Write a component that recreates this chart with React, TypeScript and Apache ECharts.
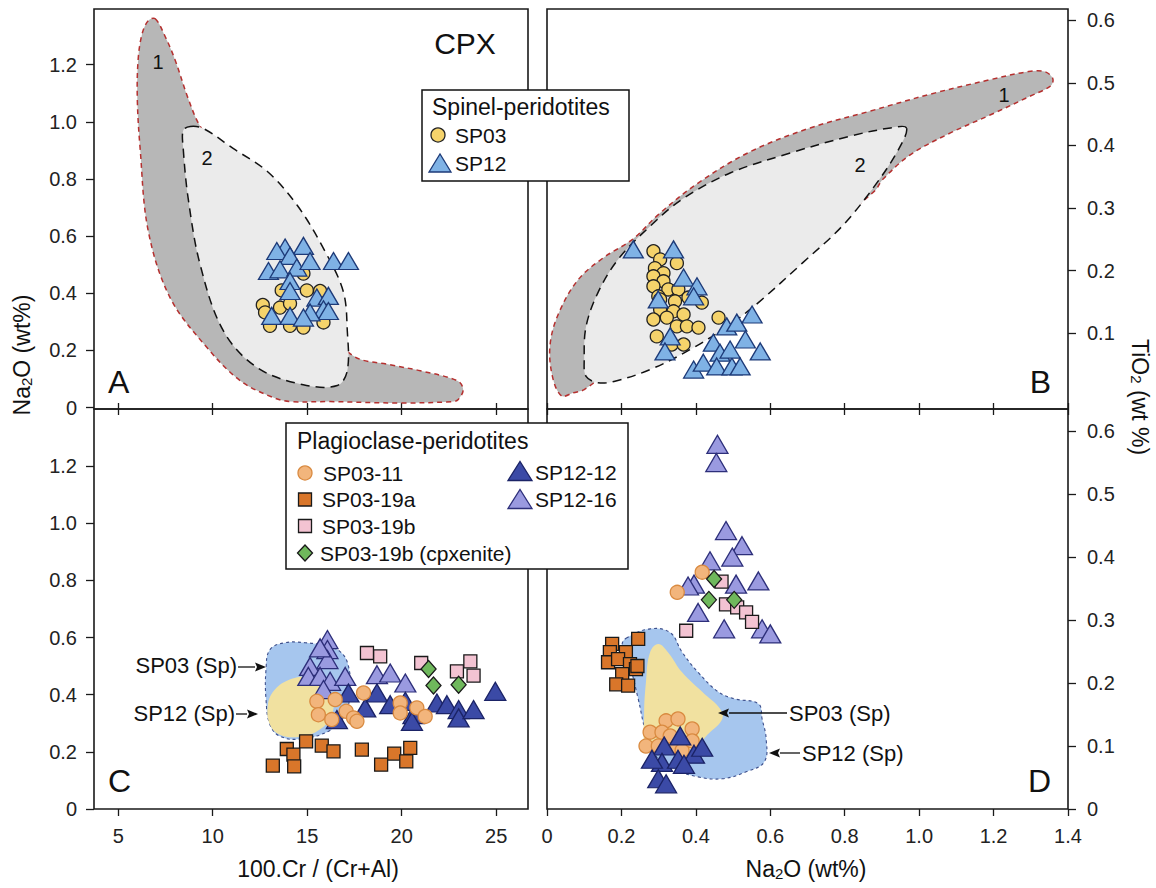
import React, { useEffect, useRef } from "react";
import * as echarts from "echarts";

type P = [number, number];

const FONT = '"Liberation Sans", Arial, Helvetica, sans-serif';

// ---------- tick values ----------
const CR_TICKS = [5, 10, 15, 20, 25];
const NA_Y_TICKS = [0, 0.2, 0.4, 0.6, 0.8, 1.0, 1.2];
const NA_X_TICKS = [0, 0.2, 0.4, 0.6, 0.8, 1.0, 1.2, 1.4];
const TI_TICKS_B = [0.1, 0.2, 0.3, 0.4, 0.5, 0.6];
const TI_TICKS_D = [0, 0.1, 0.2, 0.3, 0.4, 0.5, 0.6];

// ---------- fields (outlines) ----------
const A_FIELD1: P[] = [
  [6.96, 1.361], [7.49, 1.298], [8.02, 1.215], [8.7, 1.082], [9.34, 0.984],
  [12.51, 0.663], [15.69, 0.314], [17.43, 0.181], [19.39, 0.15], [20.98, 0.129],
  [22.94, 0.094], [23.25, 0.063], [22.99, 0.028], [22.72, 0.021], [19.92, 0.016],
  [16.22, 0.021], [14.1, 0.021], [13.2, 0.035], [11.46, 0.094], [9.71, 0.209],
  [7.75, 0.384], [6.59, 0.618], [6.16, 0.907], [6.01, 1.082], [6.06, 1.222],
  [6.27, 1.309], [6.59, 1.354],
];
const A_FIELD2: P[] = [
  [8.81, 0.984], [9.5, 0.977], [11.08, 0.907], [12.88, 0.827], [14.47, 0.708],
  [15.85, 0.558], [16.9, 0.408], [17.12, 0.269], [17.12, 0.129], [16.59, 0.077],
  [14.79, 0.08], [12.35, 0.14], [10.56, 0.269], [9.34, 0.499], [8.7, 0.733],
  [8.44, 0.907], [8.44, 0.97],
];
const B_FIELD1: P[] = [
  [0.039, 0.0], [0.015, 0.03], [0.008, 0.08], [0.03, 0.13], [0.083, 0.185],
  [0.15, 0.22], [0.23, 0.25], [0.3, 0.29], [0.406, 0.34], [0.546, 0.39],
  [0.707, 0.428], [0.869, 0.455], [1.03, 0.482], [1.19, 0.505], [1.294, 0.518],
  [1.337, 0.518], [1.359, 0.507], [1.353, 0.495], [1.299, 0.479], [1.192, 0.449],
  [1.084, 0.42], [0.976, 0.385], [0.901, 0.345], [0.88, 0.327], [0.7, 0.24],
  [0.5, 0.15], [0.3, 0.08], [0.17, 0.04], [0.1, 0.01], [0.071, 0.005],
];
const B_FIELD2: P[] = [
  [0.966, 0.428], [0.923, 0.428], [0.815, 0.415], [0.654, 0.388], [0.492, 0.356],
  [0.363, 0.314], [0.277, 0.271], [0.191, 0.218], [0.137, 0.165], [0.105, 0.111],
  [0.1, 0.058], [0.105, 0.031], [0.137, 0.021], [0.18, 0.023], [0.277, 0.042],
  [0.385, 0.074], [0.492, 0.114], [0.568, 0.149], [0.686, 0.212], [0.793, 0.271],
  [0.88, 0.335], [0.944, 0.393],
];
const C_SP12_SP_FIELD: P[] = [
  [13.03, 0.558], [13.83, 0.582], [14.89, 0.582], [15.94, 0.572], [16.74, 0.551],
  [17.16, 0.505], [17.27, 0.418], [17.0, 0.33], [16.2, 0.275], [14.61, 0.245],
  [13.55, 0.255], [13.03, 0.295], [12.82, 0.383], [12.82, 0.488],
];
const C_SP03_SP_FIELD: P[] = [
  [12.92, 0.365], [13.29, 0.418], [14.08, 0.453], [14.88, 0.463], [15.67, 0.453],
  [16.31, 0.4], [16.31, 0.33], [15.67, 0.278], [14.61, 0.253], [13.55, 0.26],
  [13.03, 0.295],
];
const D_SP12_SP_FIELD: P[] = [
  [0.2125, 0.271], [0.277, 0.286], [0.331, 0.28], [0.363, 0.249], [0.406, 0.217],
  [0.46, 0.186], [0.503, 0.175], [0.568, 0.167], [0.578, 0.143], [0.589, 0.111],
  [0.584, 0.075], [0.535, 0.059], [0.471, 0.048], [0.406, 0.051], [0.342, 0.063],
  [0.299, 0.079], [0.266, 0.122], [0.245, 0.175], [0.223, 0.227], [0.202, 0.259],
];
const D_SP03_SP_FIELD: P[] = [
  [0.299, 0.262], [0.325, 0.249], [0.363, 0.217], [0.417, 0.186], [0.465, 0.159],
  [0.471, 0.143], [0.438, 0.122], [0.385, 0.095], [0.309, 0.09], [0.266, 0.1],
  [0.261, 0.148], [0.266, 0.202], [0.277, 0.249],
];

// ---------- Panel A : Cr# vs Na2O (spinel peridotites) ----------
const A_SP03: P[] = [
  [14.8, 0.469], [13.65, 0.41], [14.98, 0.41], [15.68, 0.408], [12.65, 0.359],
  [13.56, 0.35], [14.09, 0.364], [12.77, 0.333], [13.03, 0.286], [14.09, 0.286],
  [14.8, 0.28], [15.86, 0.298],
];
const A_SP12: P[] = [
  [13.83, 0.56], [14.8, 0.566], [13.39, 0.548], [14.09, 0.531], [12.95, 0.478],
  [13.56, 0.484], [14.45, 0.49], [15.15, 0.513], [16.39, 0.513], [17.18, 0.513],
  [14.09, 0.443], [14.09, 0.408], [15.51, 0.385], [16.12, 0.391], [15.86, 0.344],
  [16.12, 0.338], [13.12, 0.321], [14.09, 0.321], [15.15, 0.333], [14.8, 0.315],
];

// ---------- Panel B : Na2O vs TiO2 (spinel peridotites) ----------
const B_SP03: P[] = [
  [0.286, 0.231], [0.304, 0.218], [0.29, 0.204], [0.349, 0.212], [0.313, 0.196],
  [0.286, 0.191], [0.313, 0.183], [0.286, 0.175], [0.326, 0.17], [0.353, 0.17],
  [0.299, 0.159], [0.304, 0.154], [0.344, 0.151], [0.38, 0.157], [0.416, 0.149],
  [0.304, 0.138], [0.34, 0.135], [0.367, 0.13], [0.286, 0.122], [0.322, 0.125],
  [0.349, 0.111], [0.376, 0.111], [0.407, 0.109], [0.295, 0.095], [0.335, 0.082],
  [0.367, 0.082], [0.461, 0.125],
];
const B_SP12: P[] = [
  [0.232, 0.234], [0.34, 0.234], [0.367, 0.189], [0.403, 0.175], [0.394, 0.159],
  [0.299, 0.154], [0.331, 0.095], [0.317, 0.071], [0.483, 0.111], [0.51, 0.117],
  [0.551, 0.13], [0.533, 0.09], [0.573, 0.071], [0.447, 0.085], [0.465, 0.069],
  [0.394, 0.042], [0.42, 0.053], [0.456, 0.047], [0.497, 0.047], [0.519, 0.047],
  [0.492, 0.074],
];

// ---------- Panel C : Cr# vs Na2O (plagioclase peridotites) ----------
const C_SP03_11: P[] = [
  [15.51, 0.377], [15.59, 0.33], [16.48, 0.383], [16.3, 0.313], [17.06, 0.342],
  [17.45, 0.319], [17.63, 0.307], [17.98, 0.406], [19.92, 0.371], [19.92, 0.336],
  [20.8, 0.354], [21.24, 0.324],
];
const C_SP03_19A: P[] = [
  [13.18, 0.152], [13.92, 0.21], [14.27, 0.19], [14.31, 0.149], [14.94, 0.237],
  [15.77, 0.222], [16.39, 0.202], [17.89, 0.208], [18.91, 0.155], [19.6, 0.194],
  [20.24, 0.167], [20.45, 0.214],
];
const C_SP03_19B: P[] = [
  [18.16, 0.546], [18.86, 0.534], [21.03, 0.511], [22.92, 0.482], [23.63, 0.517],
  [23.8, 0.467],
];
const C_SP03_19B_CPX: P[] = [[21.42, 0.49], [21.68, 0.432], [23.01, 0.435]];
const C_SP12_12: P[] = [
  [16.57, 0.313], [17.18, 0.406], [18.07, 0.354], [18.69, 0.406], [19.39, 0.365],
  [20.19, 0.377], [20.62, 0.33], [20.54, 0.307], [21.86, 0.371], [22.39, 0.365],
  [23.01, 0.348], [23.01, 0.319], [23.8, 0.348], [24.95, 0.412],
];
const C_SP12_16: P[] = [
  [16.07, 0.593], [16.07, 0.558], [16.07, 0.523], [15.68, 0.564], [15.15, 0.499],
  [15.06, 0.464], [15.68, 0.464], [16.21, 0.447], [17.01, 0.464], [18.69, 0.47],
  [19.39, 0.476], [20.19, 0.441], [15.86, 0.418],
];

// ---------- Panel D : Na2O vs TiO2 (plagioclase peridotites) ----------
const D_SP03_11: P[] = [
  [0.417, 0.376], [0.35, 0.344], [0.277, 0.122], [0.32, 0.14], [0.352, 0.143],
  [0.39, 0.127], [0.309, 0.122], [0.266, 0.1], [0.299, 0.1], [0.342, 0.1],
  [0.363, 0.093], [0.39, 0.108], [0.331, 0.116],
];
const D_SP03_19A: P[] = [
  [0.175, 0.262], [0.245, 0.27], [0.169, 0.249], [0.212, 0.249], [0.164, 0.233],
  [0.191, 0.238], [0.223, 0.23], [0.239, 0.222], [0.202, 0.214], [0.186, 0.198],
  [0.218, 0.196], [0.243, 0.227],
];
const D_SP03_19B: P[] = [
  [0.469, 0.361], [0.481, 0.325], [0.511, 0.32], [0.535, 0.312], [0.551, 0.297],
  [0.374, 0.283],
];
const D_SP03_19B_CPX: P[] = [[0.449, 0.365], [0.435, 0.332], [0.503, 0.332]];
const D_SP12_12: P[] = [
  [0.315, 0.1], [0.358, 0.116], [0.309, 0.074], [0.299, 0.048], [0.32, 0.04],
  [0.352, 0.079], [0.395, 0.087], [0.417, 0.098], [0.282, 0.079], [0.368, 0.071],
];
const D_SP12_16: P[] = [
  [0.458, 0.579], [0.455, 0.55], [0.481, 0.442], [0.524, 0.418], [0.438, 0.394],
  [0.498, 0.4], [0.395, 0.357], [0.508, 0.357], [0.568, 0.362], [0.406, 0.312],
  [0.476, 0.286], [0.578, 0.286], [0.6, 0.278], [0.379, 0.354],
];

// ---------- styles ----------
const C = {
  sp03: { fill: "#f5d36b", line: "#222222" },
  sp12: { fill: "#7fb2e5", line: "#1d3a78" },
  sp0311: { fill: "#f2b57c", line: "#d98a40" },
  sp0319a: { fill: "#d9762a", line: "#1a1a1a" },
  sp0319b: { fill: "#f3c3d2", line: "#1a1a1a" },
  cpx: { fill: "#6fb85c", line: "#1a1a1a" },
  sp1212: { fill: "#3b4aa6", line: "#1b2366" },
  sp1216: { fill: "#9a9ae0", line: "#2d2f7a" },
};

function fieldSeries(points: P[], xi: number, yi: number, fill: string, stroke: string | null, dash: number[] | null, smooth = 0.35, lw = 1.5) {
  return {
    type: "custom",
    xAxisIndex: xi,
    yAxisIndex: yi,
    data: points,
    silent: true,
    z: 2,
    renderItem: (params: any, api: any) => {
      if (params.dataIndex !== 0) return null;
      const pts = points.map((p) => api.coord(p));
      return {
        type: "polygon",
        shape: { points: pts, smooth },
        style: {
          fill,
          stroke: stroke || "none",
          lineWidth: stroke ? lw : 0,
          lineDash: dash || undefined,
        },
      };
    },
  };
}

function scatter(name: string, data: P[], xi: number, yi: number, symbol: string, size: any, col: { fill: string; line: string }, z = 4) {
  return {
    type: "scatter",
    name,
    xAxisIndex: xi,
    yAxisIndex: yi,
    data,
    symbol,
    symbolSize: size,
    silent: true,
    z,
    itemStyle: { color: col.fill, borderColor: col.line, borderWidth: 1.3, opacity: 1 },
    emphasis: { disabled: true },
  };
}

const TRI = [20, 17];
const TRI_BIG = [21, 18];

const txt = (text: string, x: number, y: number, size: number, align = "left", extra: any = {}) => ({
  type: "text",
  x,
  y,
  z: 100,
  silent: true,
  style: {
    text,
    fontSize: size,
    fontFamily: FONT,
    fill: "#111",
    align,
    verticalAlign: "middle",
    textAlign: align,
    textVerticalAlign: "middle",
    ...extra,
  },
});

const SUB = { rich: { s: { fontSize: 15, lineHeight: 8, verticalAlign: "bottom", fontFamily: FONT, fill: "#111" } } };

const arrow = (x1: number, y: number, x2: number) => {
  const dir = Math.sign(x2 - x1);
  const hx = x2 - dir * 11;
  return [
    { type: "line", z: 100, silent: true, shape: { x1, y1: y, x2: hx, y2: y }, style: { stroke: "#111", lineWidth: 1.3 } },
    { type: "polygon", z: 100, silent: true, shape: { points: [[x2, y], [hx, y - 4.5], [hx + dir * 2, y], [hx, y + 4.5]] }, style: { fill: "#111" } },
  ];
};

const tri = (cx: number, cy: number, w: number, h: number, col: { fill: string; line: string }) => ({
  type: "polygon",
  z: 100,
  silent: true,
  shape: { points: [[cx - w / 2, cy + h / 2], [cx + w / 2, cy + h / 2], [cx, cy - h / 2]] },
  style: { fill: col.fill, stroke: col.line, lineWidth: 1.3 },
});
const sq = (cx: number, cy: number, s: number, col: { fill: string; line: string }) => ({
  type: "rect",
  z: 100,
  silent: true,
  shape: { x: cx - s / 2, y: cy - s / 2, width: s, height: s },
  style: { fill: col.fill, stroke: col.line, lineWidth: 1.3 },
});
const circ = (cx: number, cy: number, r: number, col: { fill: string; line: string }) => ({
  type: "circle",
  z: 100,
  silent: true,
  shape: { cx, cy, r },
  style: { fill: col.fill, stroke: col.line, lineWidth: 1.3 },
});
const diamond = (cx: number, cy: number, w: number, h: number, col: { fill: string; line: string }) => ({
  type: "polygon",
  z: 100,
  silent: true,
  shape: { points: [[cx, cy - h / 2], [cx + w / 2, cy], [cx, cy + h / 2], [cx - w / 2, cy]] },
  style: { fill: col.fill, stroke: col.line, lineWidth: 1.3 },
});

const fmt1 = (v: number) => (v === 0 ? "0" : v.toFixed(1));

function buildOption() {
  const gridBase = { show: true, borderColor: "#1a1a1a", borderWidth: 1.6, backgroundColor: "transparent", containLabel: false };
  const grid = [
    { ...gridBase, left: 94, top: 9, width: 434, height: 400 },
    { ...gridBase, left: 547, top: 9, width: 521, height: 400 },
    { ...gridBase, left: 94, top: 409, width: 434, height: 400 },
    { ...gridBase, left: 547, top: 409, width: 521, height: 400 },
  ];
  const tickStyle = { color: "#1a1a1a", width: 1.3 };
  const labelStyle = { fontSize: 20, fontFamily: FONT, color: "#222" };
  const crBase = { type: "value", min: 3.72, max: 26.68, axisLine: { show: false, onZero: false }, splitLine: { show: false } };
  const naBase = { type: "value", min: 0, max: 1.4, axisLine: { show: false, onZero: false }, splitLine: { show: false } };
  const xAxis = [
    { ...crBase, gridIndex: 0, position: "bottom", axisLabel: { show: false }, axisTick: { customValues: CR_TICKS, length: 6, lineStyle: tickStyle } },
    { ...naBase, gridIndex: 1, position: "bottom", axisLabel: { show: false }, axisTick: { customValues: NA_X_TICKS, length: 6, lineStyle: tickStyle } },
    { ...crBase, gridIndex: 2, position: "bottom", axisLabel: { customValues: CR_TICKS, margin: 17, ...labelStyle }, axisTick: { customValues: CR_TICKS, length: 7, lineStyle: tickStyle } },
    { ...naBase, gridIndex: 3, position: "bottom", axisLabel: { customValues: NA_X_TICKS, margin: 17, formatter: fmt1, ...labelStyle }, axisTick: { customValues: NA_X_TICKS, length: 7, lineStyle: tickStyle } },
    { ...crBase, gridIndex: 2, position: "top", axisLabel: { show: false }, axisTick: { customValues: CR_TICKS, length: 6, lineStyle: tickStyle } },
    { ...naBase, gridIndex: 3, position: "top", axisLabel: { show: false }, axisTick: { customValues: NA_X_TICKS, length: 6, lineStyle: tickStyle } },
  ];
  const yBase = { type: "value", axisLine: { show: false, onZero: false }, splitLine: { show: false } };
  const yAxis = [
    { ...yBase, gridIndex: 0, position: "left", min: -0.005, max: 1.395, axisTick: { customValues: NA_Y_TICKS, length: 8, lineStyle: tickStyle }, axisLabel: { customValues: NA_Y_TICKS, formatter: fmt1, margin: 17, ...labelStyle } },
    { ...yBase, gridIndex: 1, position: "right", min: -0.021, max: 0.618, axisTick: { customValues: TI_TICKS_B, length: 8, lineStyle: tickStyle }, axisLabel: { customValues: TI_TICKS_B, formatter: fmt1, margin: 19, ...labelStyle } },
    { ...yBase, gridIndex: 2, position: "left", min: 0, max: 1.4, axisTick: { customValues: NA_Y_TICKS, length: 8, lineStyle: tickStyle }, axisLabel: { customValues: NA_Y_TICKS, formatter: fmt1, margin: 17, ...labelStyle } },
    { ...yBase, gridIndex: 3, position: "right", min: 0, max: 0.635, axisTick: { customValues: TI_TICKS_D, length: 8, lineStyle: tickStyle }, axisLabel: { customValues: TI_TICKS_D, formatter: fmt1, margin: 19, ...labelStyle } },
  ];

  const GREY1 = "#b7b7b7";
  const GREY2 = "#ebebeb";
  const RED = "#b5302f";
  const series: any[] = [
    fieldSeries(A_FIELD1, 0, 0, GREY1, RED, [5, 4], 0.35),
    fieldSeries(A_FIELD2, 0, 0, GREY2, "#111", [9, 6], 0.35),
    fieldSeries(B_FIELD1, 1, 1, GREY1, RED, [5, 4], 0.35),
    fieldSeries(B_FIELD2, 1, 1, GREY2, "#111", [9, 6], 0.35),
    fieldSeries(C_SP12_SP_FIELD, 2, 2, "#a6c6ee", "#3d4f8c", [3, 3], 0.4, 1.1),
    fieldSeries(C_SP03_SP_FIELD, 2, 2, "#f1e1a0", null, null, 0.4),
    fieldSeries(D_SP12_SP_FIELD, 3, 3, "#a6c6ee", "#3d4f8c", [3, 3], 0.4, 1.1),
    fieldSeries(D_SP03_SP_FIELD, 3, 3, "#f1e1a0", null, null, 0.4),

    scatter("SP03", A_SP03, 0, 0, "circle", 13, C.sp03),
    scatter("SP12", A_SP12, 0, 0, "triangle", TRI, C.sp12, 5),
    scatter("SP03", B_SP03, 1, 1, "circle", 13, C.sp03),
    scatter("SP12", B_SP12, 1, 1, "triangle", TRI, C.sp12, 5),

    scatter("SP03-19a", C_SP03_19A, 2, 2, "rect", 13, C.sp0319a),
    scatter("SP03-19b", C_SP03_19B, 2, 2, "rect", 13, C.sp0319b),
    scatter("SP03-19b (cpxenite)", C_SP03_19B_CPX, 2, 2, "diamond", [15, 17], C.cpx),
    scatter("SP12-16", C_SP12_16, 2, 2, "triangle", TRI_BIG, C.sp1216),
    scatter("SP12-12", C_SP12_12, 2, 2, "triangle", TRI_BIG, C.sp1212),
    scatter("SP03-11", C_SP03_11, 2, 2, "circle", 14, C.sp0311, 6),

    scatter("SP03-19a", D_SP03_19A, 3, 3, "rect", 13, C.sp0319a),
    scatter("SP12-16", D_SP12_16, 3, 3, "triangle", TRI_BIG, C.sp1216),
    scatter("SP03-19b", D_SP03_19B, 3, 3, "rect", 13, C.sp0319b, 6),
    scatter("SP03-19b (cpxenite)", D_SP03_19B_CPX, 3, 3, "diamond", [15, 17], C.cpx, 6),
    scatter("SP03-11", D_SP03_11, 3, 3, "circle", 14, C.sp0311, 5),
    scatter("SP12-12", D_SP12_12, 3, 3, "triangle", TRI_BIG, C.sp1212, 6),
  ];

  const graphic: any[] = [
    // panel letters and labels
    txt("A", 108, 382, 32),
    txt("B", 1051, 382, 32, "right"),
    txt("C", 108, 781, 32),
    txt("D", 1051, 781, 32, "right"),
    txt("CPX", 465, 43, 30, "center"),
    txt("1", 158, 62, 20, "center"),
    txt("2", 207, 158, 20, "center"),
    txt("1", 1004, 95, 20, "center"),
    txt("2", 860, 165, 20, "center"),

    // spinel legend
    { type: "rect", z: 99, silent: true, shape: { x: 422, y: 90, width: 207, height: 91 }, style: { fill: "#fff", stroke: "#111", lineWidth: 1.5 } },
    txt("Spinel-peridotites", 432, 107, 23),
    circ(438, 135, 7, C.sp03),
    txt("SP03", 455, 135, 21),
    tri(440, 163, 22, 18, C.sp12),
    txt("SP12", 455, 163, 21),

    // plagioclase legend
    { type: "rect", z: 99, silent: true, shape: { x: 286, y: 423, width: 342, height: 146 }, style: { fill: "#fff", stroke: "#111", lineWidth: 1.5 } },
    txt("Plagioclase-peridotites", 297, 441, 23),
    circ(305, 473, 7, C.sp0311),
    txt("SP03-11", 323, 473, 21),
    sq(305, 499.5, 13, C.sp0319a),
    txt("SP03-19a", 322, 499.5, 21),
    sq(305, 526, 13, C.sp0319b),
    txt("SP03-19b", 322, 526, 21),
    diamond(305, 553, 15, 16, C.cpx),
    txt("SP03-19b (cpxenite)", 320, 553, 21),
    tri(520, 471, 24, 19, C.sp1212),
    txt("SP12-12", 535, 472, 21),
    tri(520, 499, 24, 19, C.sp1216),
    txt("SP12-16", 535, 499.5, 21),

    // annotations
    txt("SP03 (Sp)", 237, 665, 22, "right"),
    ...arrow(238, 667, 266),
    txt("SP12 (Sp)", 235, 713, 22, "right"),
    ...arrow(236, 714, 258),
    txt("SP03 (Sp)", 789, 713, 22),
    ...arrow(787, 713, 718),
    txt("SP12 (Sp)", 802, 753, 22),
    ...arrow(800, 753, 769),

    // axis titles
    txt("100.Cr / (Cr+Al)", 318, 869, 23, "center"),
    txt("Na{s|2}O (wt%)", 806, 869, 23, "center", SUB),
    { ...txt("Na{s|2}O (wt%)", 22, 355, 23, "center", SUB), rotation: Math.PI / 2 },
    { ...txt("TiO{s|2} (wt %)", 1140, 397, 23, "center", SUB), rotation: -Math.PI / 2 },
  ];

  return {
    animation: false,
    backgroundColor: "#ffffff",
    textStyle: { fontFamily: FONT },
    grid,
    xAxis,
    yAxis,
    series,
    graphic: { elements: graphic },
  };
}

export default function App() {
  const ref = useRef<HTMLDivElement>(null);
  useEffect(() => {
    if (!ref.current) return;
    const chart = echarts.init(ref.current, null, { renderer: "svg" });
    chart.setOption(buildOption() as any);
    return () => chart.dispose();
  }, []);
  return (
    <div
      ref={ref}
      style={{ position: "fixed", left: 0, top: 0, width: 1156, height: 888, background: "#fff" }}
    />
  );
}
